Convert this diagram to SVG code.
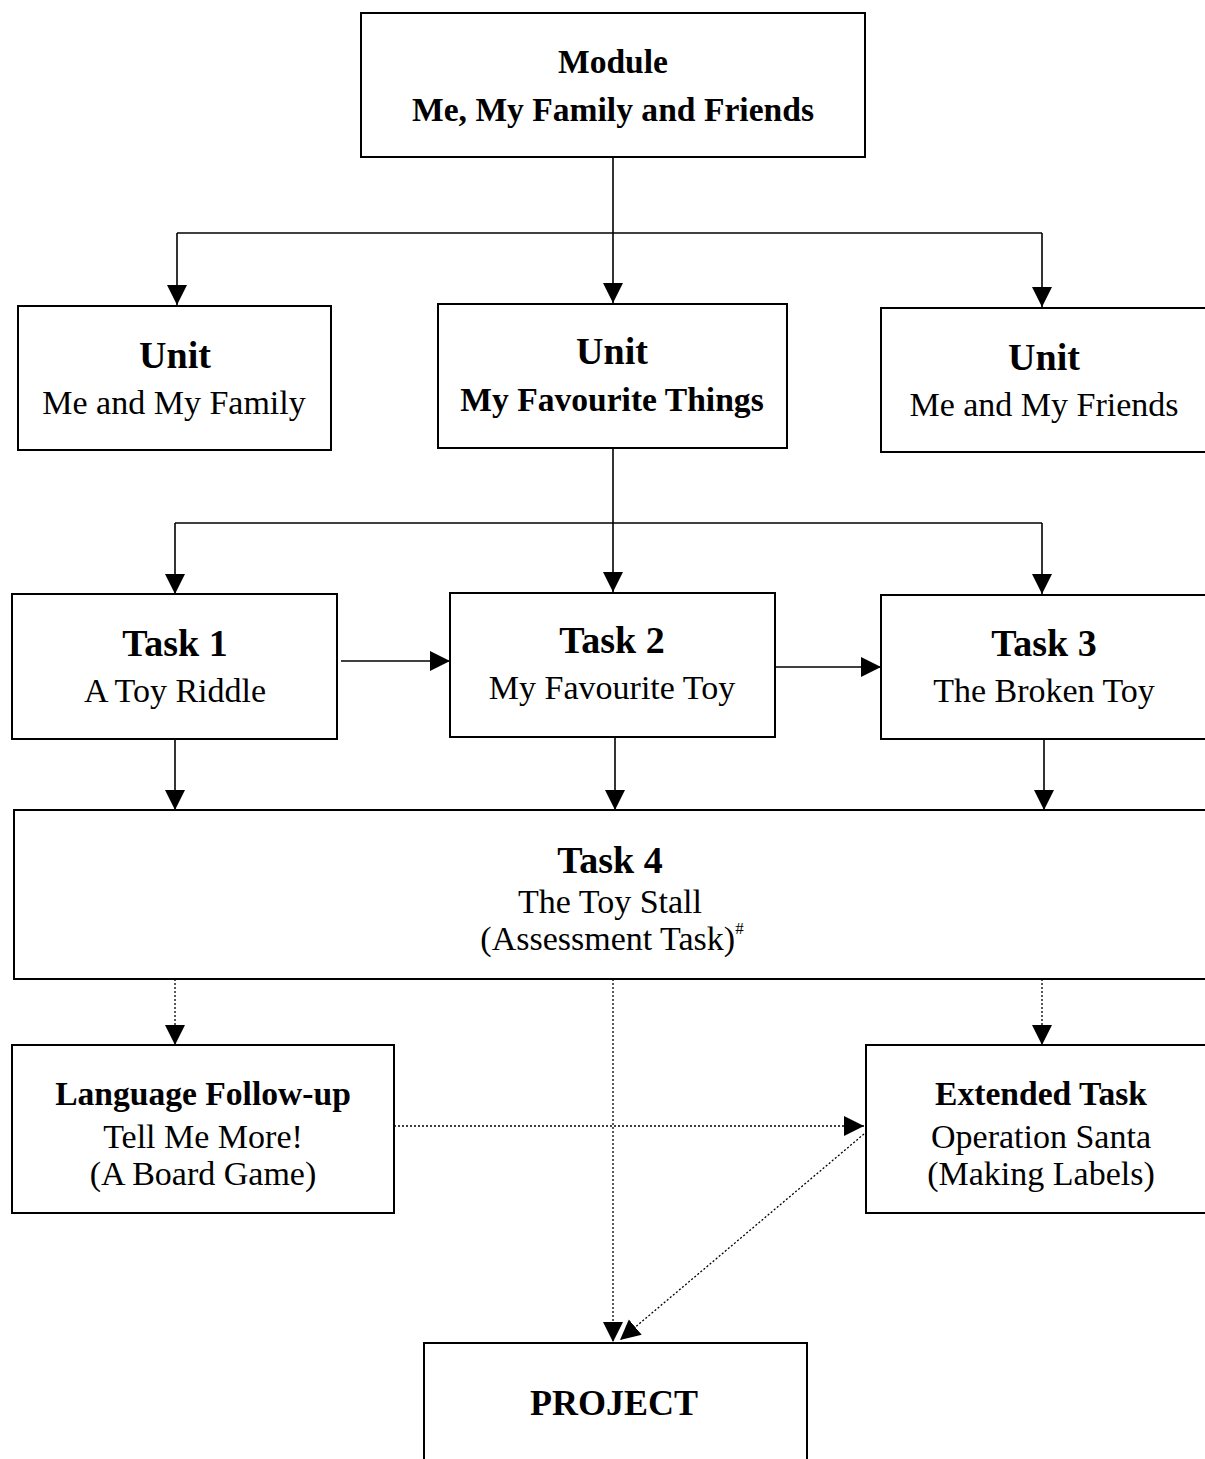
<svg xmlns="http://www.w3.org/2000/svg" width="1205" height="1459" viewBox="0 0 1205 1459">
<style>
text{font-family:"Liberation Serif","Times New Roman",serif;fill:#000;text-anchor:middle}
.h{font-weight:bold;font-size:38px}
.hb{font-weight:bold;font-size:33.6px}
.r{font-size:34px}
.p{font-weight:bold;font-size:36px}
.box{fill:#fff;stroke:#000;stroke-width:2}
.ln{fill:none;stroke:#000;stroke-width:1.6}
.dot{fill:none;stroke:#000;stroke-width:1.3;stroke-dasharray:2 2}
</style>
<defs>
<marker id="ah" viewBox="0 0 20 22" refX="20" refY="11" markerWidth="20" markerHeight="22" markerUnits="userSpaceOnUse" orient="auto">
<path d="M0,1 L20,11 L0,21 z" fill="#000"/>
</marker>
</defs>
<rect width="1205" height="1459" fill="#fff"/>
<g id="connectors">
<path class="ln" d="M613,157 V233"/>
<path class="ln" d="M177,233 H1042"/>
<path class="ln" d="M177,233 V305" marker-end="url(#ah)"/>
<path class="ln" d="M613,233 V303" marker-end="url(#ah)"/>
<path class="ln" d="M1042,233 V307" marker-end="url(#ah)"/>
<path class="ln" d="M613,448 V523"/>
<path class="ln" d="M175,523 H1042"/>
<path class="ln" d="M175,523 V594" marker-end="url(#ah)"/>
<path class="ln" d="M613,523 V592" marker-end="url(#ah)"/>
<path class="ln" d="M1042,523 V594" marker-end="url(#ah)"/>
<path class="ln" d="M341,661 H450" marker-end="url(#ah)"/>
<path class="ln" d="M776,667 H881" marker-end="url(#ah)"/>
<path class="ln" d="M175,739 V810" marker-end="url(#ah)"/>
<path class="ln" d="M615,737 V810" marker-end="url(#ah)"/>
<path class="ln" d="M1044,739 V810" marker-end="url(#ah)"/>
<path class="dot" d="M175,979 V1045" marker-end="url(#ah)"/>
<path class="dot" d="M1042,979 V1045" marker-end="url(#ah)"/>
<path class="dot" d="M613,979 V1342" marker-end="url(#ah)"/>
<path class="dot" d="M394,1126 H864" marker-end="url(#ah)"/>
<path class="dot" d="M864,1134 L620,1340" marker-end="url(#ah)"/>
</g>
<g id="module">
<rect class="box" x="361" y="13" width="504" height="144"/>
<text class="hb" x="613" y="73">Module</text>
<text class="hb" x="613" y="121">Me, My Family and Friends</text>
</g>
<g id="unit1">
<rect class="box" x="18" y="306" width="313" height="144"/>
<text class="h" x="175" y="368">Unit</text>
<text class="r" x="174" y="414">Me and My Family</text>
</g>
<g id="unit2">
<rect class="box" x="438" y="304" width="349" height="144"/>
<text class="h" x="612" y="364">Unit</text>
<text class="hb" x="612" y="411">My Favourite Things</text>
</g>
<g id="unit3">
<rect class="box" x="881" y="308" width="330" height="144"/>
<text class="h" x="1044" y="370">Unit</text>
<text class="r" x="1044" y="416">Me and My Friends</text>
</g>
<g id="task1">
<rect class="box" x="12" y="594" width="325" height="145"/>
<text class="h" x="175" y="656">Task 1</text>
<text class="r" x="175" y="702">A Toy Riddle</text>
</g>
<g id="task2">
<rect class="box" x="450" y="593" width="325" height="144"/>
<text class="h" x="612" y="653">Task 2</text>
<text class="r" x="612" y="699">My Favourite Toy</text>
</g>
<g id="task3">
<rect class="box" x="881" y="595" width="330" height="144"/>
<text class="h" x="1044" y="656">Task 3</text>
<text class="r" x="1044" y="702">The Broken Toy</text>
</g>
<g id="task4">
<rect class="box" x="14" y="810" width="1200" height="169"/>
<text class="h" x="610" y="873">Task 4</text>
<text class="r" x="610" y="913">The Toy Stall</text>
<text class="r" x="612" y="950">(Assessment Task)<tspan font-size="17" dy="-16">#</tspan></text>
</g>
<g id="language">
<rect class="box" x="12" y="1045" width="382" height="168"/>
<text class="hb" x="203" y="1105">Language Follow-up</text>
<text class="r" x="203" y="1148">Tell Me More!</text>
<text class="r" x="203" y="1185">(A Board Game)</text>
</g>
<g id="extended">
<rect class="box" x="866" y="1045" width="345" height="168"/>
<text class="hb" x="1041" y="1105">Extended Task</text>
<text class="r" x="1041" y="1148">Operation Santa</text>
<text class="r" x="1041" y="1185">(Making Labels)</text>
</g>
<g id="project">
<rect class="box" x="424" y="1343" width="383" height="130"/>
<text class="p" x="614" y="1415">PROJECT</text>
</g>
</svg>
